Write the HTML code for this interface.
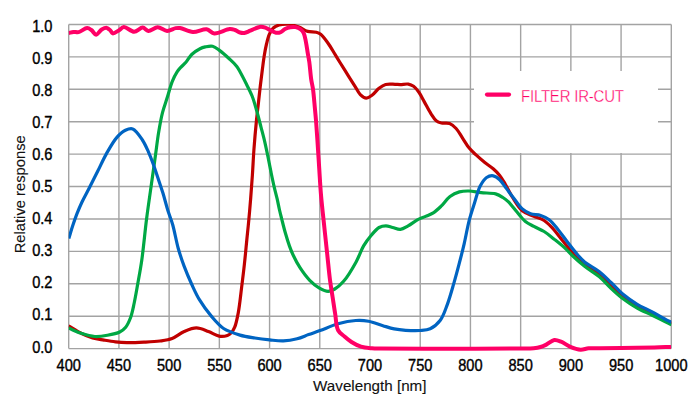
<!DOCTYPE html>
<html><head><meta charset="utf-8"><style>
html,body{margin:0;padding:0;background:#fff;}
body{width:700px;height:413px;overflow:hidden;}
svg{display:block;}
text{font-family:"Liberation Sans",sans-serif;}
</style></head><body>
<svg width="700" height="413" viewBox="0 0 700 413">
<rect width="700" height="413" fill="#fff"/>
<g stroke="#a3a3a3" stroke-width="1.4" fill="none">
<line x1="68.70" y1="24.50" x2="68.70" y2="348.60"/>
<line x1="118.92" y1="24.50" x2="118.92" y2="348.60"/>
<line x1="169.13" y1="24.50" x2="169.13" y2="348.60"/>
<line x1="219.35" y1="24.50" x2="219.35" y2="348.60"/>
<line x1="269.57" y1="24.50" x2="269.57" y2="348.60"/>
<line x1="319.78" y1="24.50" x2="319.78" y2="348.60"/>
<line x1="370.00" y1="24.50" x2="370.00" y2="348.60"/>
<line x1="420.22" y1="24.50" x2="420.22" y2="348.60"/>
<line x1="470.43" y1="24.50" x2="470.43" y2="348.60"/>
<line x1="520.65" y1="24.50" x2="520.65" y2="348.60"/>
<line x1="570.87" y1="24.50" x2="570.87" y2="348.60"/>
<line x1="621.08" y1="24.50" x2="621.08" y2="348.60"/>
<line x1="671.30" y1="24.50" x2="671.30" y2="348.60"/>
<line x1="68.70" y1="348.60" x2="671.30" y2="348.60"/>
<line x1="68.70" y1="316.19" x2="671.30" y2="316.19"/>
<line x1="68.70" y1="283.78" x2="671.30" y2="283.78"/>
<line x1="68.70" y1="251.37" x2="671.30" y2="251.37"/>
<line x1="68.70" y1="218.96" x2="671.30" y2="218.96"/>
<line x1="68.70" y1="186.55" x2="671.30" y2="186.55"/>
<line x1="68.70" y1="154.14" x2="671.30" y2="154.14"/>
<line x1="68.70" y1="121.73" x2="671.30" y2="121.73"/>
<line x1="68.70" y1="89.32" x2="671.30" y2="89.32"/>
<line x1="68.70" y1="56.91" x2="671.30" y2="56.91"/>
<line x1="68.70" y1="24.50" x2="671.30" y2="24.50"/>
</g>
<rect x="474" y="71" width="184" height="82" fill="#fff"/>
<g font-size="14.6" fill="#000" stroke="#000" stroke-width="0.35" text-anchor="end">
<text transform="translate(52.5,352.50) scale(1,1.07)">0.0</text>
<text transform="translate(52.5,320.47) scale(1,1.07)">0.1</text>
<text transform="translate(52.5,288.44) scale(1,1.07)">0.2</text>
<text transform="translate(52.5,256.41) scale(1,1.07)">0.3</text>
<text transform="translate(52.5,224.38) scale(1,1.07)">0.4</text>
<text transform="translate(52.5,192.35) scale(1,1.07)">0.5</text>
<text transform="translate(52.5,160.32) scale(1,1.07)">0.6</text>
<text transform="translate(52.5,128.29) scale(1,1.07)">0.7</text>
<text transform="translate(52.5,96.26) scale(1,1.07)">0.8</text>
<text transform="translate(52.5,64.23) scale(1,1.07)">0.9</text>
<text transform="translate(52.5,32.20) scale(1,1.07)">1.0</text>
</g>
<g font-size="14.6" fill="#000" stroke="#000" stroke-width="0.35" text-anchor="middle">
<text transform="translate(68.70,370.8) scale(1,1.07)">400</text>
<text transform="translate(118.92,370.8) scale(1,1.07)">450</text>
<text transform="translate(169.13,370.8) scale(1,1.07)">500</text>
<text transform="translate(219.35,370.8) scale(1,1.07)">550</text>
<text transform="translate(269.57,370.8) scale(1,1.07)">600</text>
<text transform="translate(319.78,370.8) scale(1,1.07)">650</text>
<text transform="translate(370.00,370.8) scale(1,1.07)">700</text>
<text transform="translate(420.22,370.8) scale(1,1.07)">750</text>
<text transform="translate(470.43,370.8) scale(1,1.07)">800</text>
<text transform="translate(520.65,370.8) scale(1,1.07)">850</text>
<text transform="translate(570.87,370.8) scale(1,1.07)">900</text>
<text transform="translate(621.08,370.8) scale(1,1.07)">950</text>
<text transform="translate(671.30,370.8) scale(1,1.07)">1000</text>
</g>
<text x="369.8" y="390.6" font-size="15.2" fill="#111" stroke="#111" stroke-width="0.12" text-anchor="middle">Wavelength [nm]</text>
<text transform="translate(24.8,194.3) rotate(-90)" font-size="14.75" fill="#111" stroke="#111" stroke-width="0.12" text-anchor="middle">Relative response</text>
<defs><clipPath id="pc"><rect x="68.7" y="24" width="602.7" height="340"/></clipPath></defs>
<g fill="none" stroke-linecap="butt" stroke-linejoin="round" clip-path="url(#pc)">
<path d="M68.60,325.90 C72.77,328.37 76.94,331.25 81.10,333.30 C84.94,335.19 88.72,336.76 92.60,337.90 C96.36,339.00 100.19,339.43 104.00,340.10 C107.79,340.77 111.58,341.47 115.40,341.90 C119.22,342.33 122.69,342.62 126.90,342.70 C132.03,342.80 138.40,342.49 144.00,342.20 C149.43,341.92 155.06,341.69 160.00,341.00 C164.34,340.39 168.18,339.99 172.10,338.50 C176.27,336.91 180.05,333.28 184.20,331.50 C188.16,329.80 192.34,327.90 196.40,327.90 C200.44,327.90 204.64,330.09 208.50,331.50 C212.19,332.84 215.72,335.54 219.10,336.10 C221.97,336.57 225.25,336.13 227.40,335.40 C228.96,334.87 229.99,334.14 231.10,333.00 C232.49,331.59 233.66,329.68 234.70,327.20 C236.25,323.53 237.26,318.11 238.30,312.60 C239.63,305.58 240.48,296.47 241.50,288.40 C242.52,280.34 243.52,272.27 244.40,264.20 C245.28,256.14 246.03,247.78 246.80,240.00 C247.52,232.75 248.25,226.00 248.90,219.00 C249.55,212.00 250.13,205.16 250.70,198.00 C251.30,190.51 251.88,182.83 252.40,175.00 C252.95,166.84 253.26,158.71 253.90,150.00 C254.60,140.45 255.66,128.44 256.50,120.00 C257.11,113.83 257.69,109.49 258.30,104.00 C258.95,98.18 259.61,91.82 260.30,86.00 C260.95,80.51 261.63,75.15 262.30,70.00 C262.93,65.18 263.47,60.48 264.20,56.00 C264.88,51.84 265.58,47.78 266.50,44.00 C267.34,40.55 268.13,37.02 269.40,34.20 C270.48,31.81 271.62,29.55 273.30,28.00 C274.89,26.54 276.85,25.65 279.10,25.00 C281.83,24.21 285.48,23.89 288.70,24.20 C292.08,24.53 295.69,25.86 298.90,27.10 C301.97,28.28 304.62,30.56 307.60,31.40 C310.43,32.20 313.94,31.55 316.30,32.20 C318.07,32.69 319.19,33.12 320.70,34.30 C323.00,36.09 325.59,39.80 327.90,43.00 C330.45,46.53 333.03,51.19 335.20,54.70 C336.97,57.56 338.17,59.54 340.00,62.50 C342.43,66.41 345.85,71.90 348.50,76.10 C350.80,79.75 352.94,83.08 355.00,86.30 C356.86,89.21 358.20,92.58 360.30,94.60 C362.06,96.29 364.29,98.05 366.30,98.10 C368.29,98.15 370.35,96.42 372.30,95.00 C374.61,93.31 376.65,90.10 379.00,88.30 C381.11,86.69 383.11,85.20 385.60,84.50 C388.37,83.73 392.31,84.25 395.00,84.30 C397.02,84.34 398.35,84.61 400.30,84.60 C402.69,84.59 405.95,83.71 408.30,84.10 C410.29,84.43 411.96,85.13 413.60,86.30 C415.54,87.69 417.24,89.98 418.90,92.30 C420.81,94.98 422.34,98.30 424.20,101.60 C426.31,105.34 428.68,110.18 430.90,113.60 C432.68,116.34 434.20,119.12 436.20,120.70 C437.81,121.98 439.50,122.52 441.50,123.00 C443.87,123.57 447.17,122.59 449.60,123.50 C452.04,124.42 454.09,126.35 456.10,128.50 C458.52,131.08 460.51,135.03 462.70,138.30 C464.88,141.56 466.87,145.25 469.20,148.10 C471.27,150.63 473.41,152.46 475.80,154.70 C478.46,157.19 481.55,159.92 484.50,162.30 C487.36,164.61 490.59,166.52 493.20,168.80 C495.61,170.90 497.73,172.93 499.70,175.40 C501.79,178.03 503.36,180.93 505.30,184.20 C507.63,188.14 509.84,193.15 512.60,197.50 C515.48,202.03 518.46,207.62 522.30,210.80 C525.69,213.61 530.14,214.63 533.90,216.30 C537.39,217.84 541.02,218.55 544.10,220.50 C547.22,222.47 549.68,225.11 552.50,228.10 C555.88,231.68 559.16,236.44 562.70,240.80 C566.50,245.48 570.61,251.14 574.60,255.30 C578.02,258.87 581.05,261.55 584.90,264.50 C589.21,267.81 595.00,270.44 599.40,274.00 C603.67,277.46 607.10,281.73 611.00,285.50 C614.87,289.23 618.45,293.07 622.70,296.50 C627.15,300.09 632.25,303.62 637.20,306.50 C641.93,309.25 646.51,310.93 651.70,313.50 C657.78,316.51 664.83,320.17 671.40,323.50" stroke="#c00000" stroke-width="3.2"/>
<path d="M68.60,328.10 C72.77,329.83 76.77,331.91 81.10,333.30 C85.53,334.72 90.39,336.20 94.90,336.50 C99.15,336.78 103.28,336.04 107.40,335.30 C111.55,334.55 116.46,333.64 119.70,332.00 C122.22,330.73 123.99,329.31 125.70,327.20 C127.74,324.69 129.25,321.14 130.60,317.50 C132.19,313.23 133.07,308.20 134.20,303.00 C135.50,297.02 136.59,290.39 137.80,283.60 C139.13,276.12 140.52,268.97 141.80,260.00 C143.49,248.19 144.87,232.32 146.60,218.80 C148.28,205.66 150.39,191.52 152.00,180.00 C153.29,170.75 154.36,163.16 155.50,155.00 C156.59,147.17 157.47,139.32 158.70,132.00 C159.83,125.24 160.95,118.66 162.50,112.60 C163.90,107.10 165.78,102.27 167.40,97.10 C169.02,91.94 170.38,86.10 172.20,81.60 C173.69,77.92 175.42,74.50 177.10,71.90 C178.37,69.94 179.58,68.66 181.00,67.10 C182.50,65.46 184.27,64.17 185.90,62.30 C187.84,60.08 189.38,56.75 191.70,54.50 C194.07,52.20 197.46,49.99 200.00,48.70 C201.89,47.74 203.37,47.32 205.30,46.90 C207.51,46.42 210.26,45.66 212.60,46.20 C215.11,46.78 217.30,48.77 219.80,50.60 C222.88,52.85 226.55,56.22 229.50,59.00 C232.16,61.51 234.96,64.11 236.80,66.50 C238.22,68.33 238.80,69.67 240.00,71.80 C241.73,74.88 244.02,79.35 246.00,83.30 C248.06,87.41 250.36,91.60 252.10,96.00 C253.87,100.49 255.08,105.08 256.50,110.00 C258.06,115.40 259.58,121.63 261.00,127.10 C262.30,132.13 263.55,136.68 264.70,141.60 C265.88,146.64 266.94,151.89 268.00,157.00 C269.04,162.05 269.97,167.12 271.00,172.10 C272.01,176.99 273.04,181.99 274.10,186.60 C275.07,190.82 276.19,194.73 277.10,198.70 C277.98,202.52 278.69,206.46 279.50,210.00 C280.22,213.15 280.87,215.61 281.70,218.90 C282.74,223.02 283.99,228.23 285.30,232.80 C286.59,237.30 288.07,242.14 289.50,246.10 C290.68,249.39 291.60,251.82 293.10,255.00 C294.94,258.91 297.32,263.58 300.00,267.70 C302.81,272.02 306.24,276.77 309.70,280.30 C312.76,283.42 316.10,286.23 319.40,288.10 C322.25,289.71 325.38,291.27 328.10,291.30 C330.47,291.33 332.54,290.31 334.80,289.00 C337.70,287.32 340.65,284.71 343.60,281.30 C347.74,276.50 352.63,268.17 356.10,261.90 C359.13,256.41 360.85,250.59 363.60,245.90 C365.98,241.85 368.58,238.37 371.30,235.20 C373.78,232.31 376.37,229.01 379.10,227.50 C381.28,226.29 383.64,225.90 385.90,225.90 C388.14,225.90 390.28,226.94 392.60,227.50 C395.10,228.10 397.85,229.64 400.40,229.40 C403.02,229.15 405.44,227.35 408.10,225.90 C411.20,224.21 414.68,221.34 417.80,219.70 C420.48,218.29 423.02,217.53 425.60,216.40 C428.18,215.27 430.83,214.48 433.30,212.90 C436.02,211.16 438.49,208.73 441.10,206.20 C444.05,203.34 446.74,198.93 450.00,196.50 C452.90,194.33 456.16,192.81 459.40,191.90 C462.51,191.03 465.62,190.92 469.00,191.00 C472.81,191.09 476.88,192.23 481.10,192.70 C485.71,193.21 491.67,192.81 495.60,193.90 C498.54,194.71 500.69,196.11 502.90,197.50 C504.96,198.80 506.54,200.01 508.50,201.90 C511.17,204.48 514.15,208.71 517.00,212.00 C519.78,215.21 522.39,218.93 525.40,221.40 C528.07,223.59 530.91,224.77 533.90,226.40 C537.12,228.15 540.80,229.44 544.10,231.50 C547.58,233.67 550.85,236.55 554.20,239.20 C557.62,241.91 561.18,244.68 564.40,247.60 C567.54,250.45 570.08,253.51 573.30,256.50 C576.86,259.80 580.73,263.25 584.90,266.50 C589.38,270.00 594.98,272.98 599.40,276.70 C603.65,280.27 607.06,284.62 611.00,288.30 C614.83,291.88 618.48,295.28 622.70,298.50 C627.17,301.91 632.27,305.31 637.20,308.10 C641.94,310.78 647.40,312.94 651.70,315.00 C655.15,316.65 657.82,317.92 661.00,319.50 C664.38,321.18 667.93,323.03 671.40,324.80" stroke="#00a844" stroke-width="3.2"/>
<path d="M68.80,238.50 C70.10,234.27 71.33,229.95 72.70,225.80 C74.03,221.75 75.36,217.84 76.90,213.90 C78.46,209.91 80.08,206.06 82.00,202.00 C84.08,197.60 86.55,193.30 89.00,188.50 C91.78,183.05 94.88,176.83 97.80,171.00 C100.71,165.19 103.33,159.20 106.50,153.60 C109.63,148.07 113.10,141.70 116.70,137.60 C119.48,134.43 122.44,131.71 125.40,130.30 C127.79,129.16 130.32,128.08 132.70,128.90 C136.05,130.05 139.73,136.04 142.40,140.00 C144.96,143.80 146.67,148.03 148.50,152.10 C150.29,156.09 151.74,159.96 153.30,164.20 C154.99,168.79 156.58,173.86 158.20,178.70 C159.82,183.55 161.45,188.24 163.00,193.30 C164.66,198.71 166.12,204.80 167.80,210.20 C169.37,215.24 171.14,219.24 172.70,224.70 C174.65,231.55 176.15,240.91 178.20,248.20 C180.03,254.70 181.95,260.39 184.20,266.40 C186.48,272.49 189.17,278.77 191.80,284.50 C194.25,289.83 196.33,294.64 199.40,299.70 C202.78,305.27 207.26,311.43 211.50,316.40 C215.36,320.93 218.90,325.39 223.60,328.50 C228.38,331.66 234.59,333.50 240.00,335.10 C245.01,336.58 249.93,337.20 254.90,338.00 C259.83,338.80 264.86,339.41 269.70,339.90 C274.35,340.37 278.84,341.08 283.40,340.90 C287.98,340.72 292.78,339.91 297.10,338.80 C301.16,337.76 304.77,335.97 308.60,334.60 C312.40,333.24 315.78,332.14 320.00,330.60 C325.33,328.66 331.94,325.49 338.00,323.80 C343.88,322.16 350.35,320.85 355.80,320.50 C360.37,320.21 364.18,320.42 368.50,321.20 C373.20,322.05 378.38,324.35 382.90,325.70 C386.89,326.89 390.39,328.13 394.20,328.90 C397.99,329.66 401.65,330.03 405.70,330.30 C410.20,330.60 415.65,330.83 420.00,330.50 C423.70,330.22 427.00,330.28 430.20,328.80 C433.82,327.13 437.57,323.92 440.30,320.30 C443.37,316.23 444.99,310.70 447.10,305.10 C449.58,298.51 451.85,290.15 453.90,283.10 C455.78,276.63 457.33,270.77 459.00,264.40 C460.73,257.78 462.46,251.15 464.10,244.10 C465.87,236.50 467.31,227.56 469.20,220.30 C470.83,214.04 472.67,208.70 474.50,203.00 C476.31,197.37 477.74,190.84 480.10,186.30 C481.96,182.73 484.09,179.20 486.60,177.50 C488.58,176.16 491.07,175.49 493.20,175.80 C495.45,176.13 497.69,177.89 499.70,179.70 C502.12,181.87 503.93,185.28 506.30,188.40 C509.07,192.04 512.50,196.61 515.30,200.20 C517.68,203.25 519.40,206.33 522.00,208.60 C524.50,210.78 527.42,212.57 530.50,213.70 C533.64,214.86 537.53,214.36 540.70,215.40 C543.74,216.40 546.55,217.68 549.20,219.70 C552.24,222.02 554.74,225.54 557.60,229.00 C560.92,233.02 564.37,238.08 567.80,242.50 C571.17,246.85 574.84,251.76 578.00,255.30 C580.44,258.03 582.03,259.87 584.90,262.20 C588.72,265.31 594.97,268.23 599.40,271.70 C603.64,275.02 607.15,278.80 611.00,282.50 C614.92,286.27 618.43,290.52 622.70,294.10 C627.13,297.81 632.26,301.34 637.20,304.30 C641.93,307.13 646.89,309.04 651.70,311.60 C656.59,314.20 662.66,317.89 666.30,319.80 C668.42,320.91 669.70,321.47 671.40,322.30" stroke="#0064c2" stroke-width="3.2"/>
<path d="M68.70,33.00 C70.27,32.63 71.78,32.06 73.40,31.90 C75.08,31.74 76.71,32.49 78.60,32.10 C81.14,31.58 84.74,28.13 87.10,28.10 C88.77,28.08 90.02,29.05 91.40,30.00 C93.04,31.12 94.45,34.66 96.10,34.70 C97.87,34.74 99.75,30.74 101.70,29.60 C103.34,28.64 105.31,27.68 106.80,27.90 C108.13,28.10 109.28,29.46 110.30,30.40 C111.27,31.30 111.67,33.16 112.80,33.40 C114.29,33.71 116.91,31.49 118.80,30.40 C120.60,29.35 121.86,27.16 123.90,27.00 C126.67,26.78 130.85,31.72 134.10,31.70 C137.09,31.68 140.17,27.49 142.70,27.60 C144.79,27.69 146.14,30.72 148.30,30.90 C150.98,31.12 154.57,27.30 157.70,27.30 C160.83,27.30 164.02,30.82 167.10,30.90 C170.02,30.97 173.30,28.51 175.70,28.10 C177.36,27.82 178.21,27.74 180.00,28.00 C183.18,28.45 188.50,31.87 192.90,32.10 C197.37,32.34 202.77,28.75 206.60,29.30 C209.63,29.74 211.21,33.06 214.30,33.40 C218.48,33.86 225.91,29.29 229.70,29.10 C231.88,28.99 233.21,29.45 234.90,30.00 C236.65,30.57 238.33,32.03 240.00,32.50 C241.46,32.91 242.77,33.10 244.30,32.90 C246.16,32.66 248.08,31.55 250.30,30.70 C253.09,29.62 256.93,27.26 259.70,26.90 C261.77,26.63 263.50,27.03 265.30,27.60 C267.17,28.20 268.89,29.64 270.70,30.50 C272.45,31.33 274.30,32.42 276.00,32.70 C277.45,32.94 278.82,32.89 280.20,32.40 C281.83,31.82 283.29,29.87 285.00,29.00 C286.66,28.15 288.51,27.51 290.30,27.20 C292.04,26.90 293.88,26.74 295.60,27.10 C297.39,27.47 299.41,28.42 300.80,29.50 C302.05,30.47 302.92,31.53 303.70,33.10 C304.79,35.29 305.25,38.68 305.90,41.80 C306.64,45.37 307.20,49.82 307.80,53.40 C308.32,56.48 308.82,58.62 309.30,62.00 C309.98,66.78 310.47,74.45 311.20,79.40 C311.75,83.11 312.46,85.30 313.00,89.10 C313.75,94.42 314.35,102.57 314.90,108.40 C315.36,113.22 315.71,116.83 316.10,121.60 C316.55,127.22 316.94,133.22 317.40,140.00 C317.96,148.36 318.59,158.75 319.20,168.00 C319.79,177.08 320.22,185.77 321.00,195.00 C321.83,204.74 323.05,215.00 324.10,225.00 C325.15,235.00 326.28,245.46 327.30,255.00 C328.24,263.71 329.02,272.48 330.00,280.00 C330.81,286.22 331.73,291.33 332.60,297.00 C333.47,302.67 334.27,308.41 335.20,314.00 C336.11,319.47 336.03,326.27 338.10,330.20 C339.63,333.10 342.26,334.53 344.50,336.50 C346.73,338.46 348.89,340.36 351.50,342.00 C354.34,343.79 357.63,345.65 361.00,346.70 C364.45,347.78 368.62,347.99 372.00,348.30 C374.87,348.56 376.01,348.52 380.00,348.60 C391.79,348.83 426.67,348.72 450.00,348.70 C473.33,348.68 505.69,348.68 520.00,348.50 C526.33,348.42 529.94,348.57 533.70,348.20 C536.37,347.94 538.36,347.62 540.50,347.00 C542.54,346.40 544.25,345.61 546.30,344.60 C548.79,343.38 551.67,340.37 554.30,340.00 C556.59,339.68 558.73,340.75 561.10,341.70 C564.01,342.86 567.06,345.57 570.30,346.90 C573.56,348.24 577.37,349.55 580.60,349.70 C583.42,349.83 585.69,348.57 588.60,348.30 C592.05,347.98 595.63,348.23 600.00,348.20 C605.90,348.16 613.04,348.19 620.80,348.10 C630.64,347.99 645.06,347.75 654.30,347.50 C660.83,347.32 665.43,347.10 671.00,346.90" stroke="#ff0066" stroke-width="4"/>
</g>
<line x1="487" y1="94.6" x2="509" y2="94.6" stroke="#ff0066" stroke-width="4.2" stroke-linecap="round"/>
<text transform="translate(521,102.2) scale(1,1.04)" font-size="15" fill="#ff0066" stroke="#fff" stroke-width="0.3" textLength="103" lengthAdjust="spacing">FILTER IR-CUT</text>
</svg>
</body></html>
